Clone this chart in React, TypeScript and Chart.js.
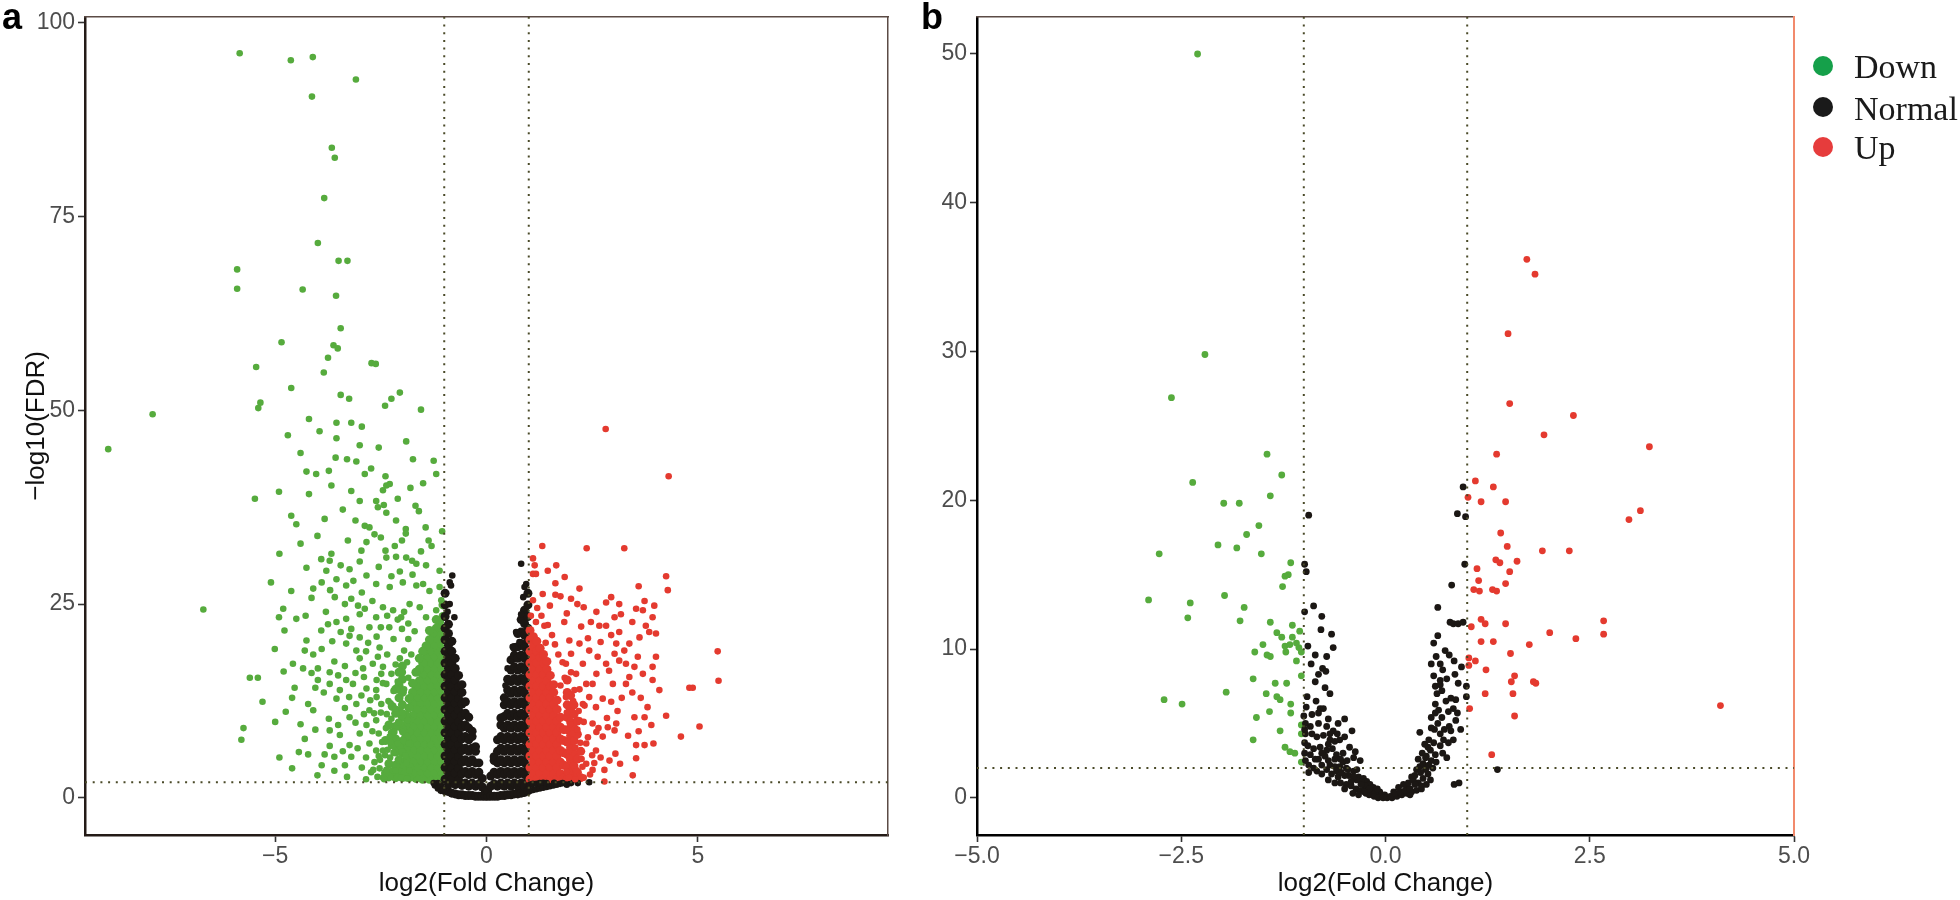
import React, { useEffect, useRef } from 'react';
import { Chart, registerables } from 'chart.js';

Chart.register(...registerables);

type P = [number, number];
type Col = [number, number[]];

// ---------- thresholds ----------
const fcCut = 1;
const fdrCut = 2;

// ---------- axes ----------
const aXTicks = [-5, 0, 5];
const aYTicks = [0, 25, 50, 75, 100];
const aXRange: P = [-9.5, 9.5];
const aYRange: P = [-4.8, 100.8];

const bXTicks = [-5, -2.5, 0, 2.5, 5];
const bYTicks = [0, 10, 20, 30, 40, 50];
const bXRange: P = [-5, 5];
const bYRange: P = [-2.5, 52.5];

const legendLabels = ['Down', 'Normal', 'Up'];

// ---------- panel a : Normal (dense V, listed per log2FC column) ----------
const aNormalCols: Col[] = [
  [-0.98, [0.9, 2.4, 3.9, 5.4, 6.9, 8.4, 9.9, 11.4, 12.9, 14.4, 15.9, 17.4, 18.9, 20.4, 21.9, 23.4, 24.9, 26.4]],
  [-0.90, [0.8, 1.7, 3.2, 4.7, 6.2, 7.7, 9.2, 10.7, 12.2, 13.7, 15.2, 16.7, 18.2, 19.7, 21.2, 22.4]],
  [-0.82, [0.6, 2.4, 3.9, 5.4, 6.9, 8.4, 9.9, 11.4, 12.9, 14.4, 15.9, 17.4, 18.9, 20.2]],
  [-0.74, [0.5, 1.7, 3.2, 4.7, 6.2, 7.7, 9.2, 10.7, 12.2, 13.7, 15.2, 16.7, 18.0]],
  [-0.66, [0.4, 2.3, 3.8, 5.3, 6.8, 8.3, 9.8, 11.3, 12.8, 14.3, 15.8]],
  [-0.58, [0.4, 1.6, 3.1, 4.6, 6.1, 7.6, 9.1, 10.6, 12.1, 13.6, 14.6]],
  [-0.50, [0.3, 1.9, 3.4, 4.9, 6.4, 7.9, 9.4, 10.9, 12.4]],
  [-0.42, [0.3, 1.5, 3.0, 4.5, 6.0, 7.5, 9.0, 10.4]],
  [-0.34, [0.3, 1.9, 3.4, 4.9, 6.4, 7.9, 8.6]],
  [-0.26, [0.2, 1.5, 3.0, 4.5, 6.0, 6.6]],
  [-0.18, [0.2, 1.8, 3.3, 4.5]],
  [-0.10, [0.2, 1.4, 2.5]],
  [-0.03, [0.2, 0.9]],
  [0.03, [0.2, 0.9]],
  [0.10, [0.2, 1.5, 2.8]],
  [0.18, [0.2, 1.8, 3.3, 4.8, 5.3]],
  [0.26, [0.2, 1.5, 3.0, 4.5, 6.0, 7.5]],
  [0.34, [0.3, 1.9, 3.4, 4.9, 6.4, 7.9, 9.4, 10.3]],
  [0.42, [0.3, 1.5, 3.0, 4.5, 6.0, 7.5, 9.0, 10.5, 12.0, 12.9]],
  [0.50, [0.4, 1.9, 3.4, 4.9, 6.4, 7.9, 9.4, 10.9, 12.4, 13.9, 15.3]],
  [0.58, [0.4, 1.5, 3.0, 4.5, 6.0, 7.5, 9.0, 10.5, 12.0, 13.5, 15.0, 16.5, 17.8]],
  [0.66, [0.5, 1.9, 3.4, 4.9, 6.4, 7.9, 9.4, 10.9, 12.4, 13.9, 15.4, 16.9, 18.4, 19.4]],
  [0.74, [0.5, 1.5, 3.0, 4.5, 6.0, 7.5, 9.0, 10.5, 12.0, 13.5, 15.0, 16.5, 18.0, 19.5, 21.2]],
  [0.82, [0.6, 1.9, 3.4, 4.9, 6.4, 7.9, 9.4, 10.9, 12.4, 13.9, 15.4, 16.9, 18.4, 19.9, 21.4, 23.0]],
  [0.90, [0.7, 1.5, 3.0, 4.5, 6.0, 7.5, 9.0, 10.5, 12.0, 13.5, 15.0, 16.5, 18.0, 19.5, 21.0, 22.5, 24.2]],
  [0.98, [0.9, 2.4, 3.9, 5.4, 6.9, 8.4, 9.9, 11.4, 12.9, 14.4, 15.9, 17.4, 18.9, 20.4, 21.9, 23.4, 24.9, 26.4]],
];
const aNormalPts: P[] = [
  [-0.81, 28.7], [-0.87, 27.8], [-0.84, 27.4], [-0.87, 25.0], [-0.76, 23.3], [-0.92, 24.0],
  [0.82, 30.2], [0.94, 27.6], [0.90, 27.2], [0.87, 25.9], [0.82, 23.7], [0.70, 21.4], [0.78, 20.1],
  [0.50, 16.7], [0.45, 14.5], [0.62, 19.5],
  [-1.22, 1.6], [-1.15, 1.2], [-1.15, 1.9], [-1.08, 0.9], [-1.08, 1.6], [-1.03, 1.1], [-1.25, 1.9],
  [1.03, 0.9], [1.03, 1.7], [1.10, 1.0], [1.10, 1.8], [1.18, 1.1], [1.18, 1.8], [1.26, 1.2], [1.26, 1.9],
  [1.34, 1.3], [1.34, 1.95], [1.42, 1.4], [1.42, 1.9], [1.50, 1.5], [1.58, 1.6], [1.60, 1.95], [1.66, 1.7],
  [1.74, 1.8], [1.80, 1.9], [1.90, 1.7], [2.00, 1.9], [2.16, 1.9], [2.43, 2.0],
];

// ---------- panel a : Down ----------
const aDownCols: Col[] = [
  [-1.03, [2.4, 3.9, 5.4, 6.9, 8.4, 9.9, 11.4, 12.9, 14.4, 15.9, 17.4, 18.9, 20.4, 21.9, 23.4, 24.9]],
  [-1.11, [3.1, 4.6, 6.1, 7.6, 9.1, 10.6, 12.1, 13.6, 15.1, 16.6, 18.1, 19.6, 21.1, 22.7]],
  [-1.19, [2.4, 3.9, 5.4, 6.9, 8.4, 9.9, 11.4, 12.9, 14.4, 15.9, 17.4, 18.9, 20.4, 21.9, 23.0]],
  [-1.27, [3.1, 4.6, 6.1, 7.6, 9.1, 10.6, 12.1, 13.6, 15.1, 16.6, 18.1, 19.6, 21.2]],
  [-1.35, [2.4, 3.9, 5.4, 6.9, 8.4, 9.9, 11.4, 12.9, 14.4, 15.9, 17.4, 18.9, 20.4, 21.6]],
  [-1.43, [3.1, 4.6, 6.1, 7.6, 9.1, 10.6, 12.1, 13.6, 15.1, 16.6, 18.1, 19.6]],
  [-1.51, [2.4, 3.9, 5.4, 6.9, 8.4, 9.9, 11.4, 12.9, 14.4, 15.9, 17.4, 18.9]],
  [-1.59, [3.1, 4.6, 6.1, 7.6, 9.1, 10.6, 12.1, 13.6, 15.1, 16.6, 18.0]],
  [-1.67, [2.5, 3.9, 5.4, 6.9, 8.4, 9.9, 11.4, 12.9, 14.4, 16.2]],
  [-1.75, [3.1, 4.6, 6.1, 7.6, 9.1, 10.6, 12.1, 13.6, 14.8]],
  [-1.83, [2.6, 4.0, 5.5, 7.0, 8.5, 10.0, 11.6, 12.8]],
  [-1.91, [3.4, 4.9, 6.4, 7.9, 9.4, 10.7]],
  [-1.99, [2.6, 4.1, 5.8, 7.3, 8.9, 10.4, 12.0, 13.6, 15.3, 17.0]],
  [-2.07, [3.3, 4.9, 6.6, 9.6, 11.2, 12.9, 14.5, 16.2]],
  [-2.15, [2.6, 4.2, 5.9, 7.6, 9.2, 10.9, 14.0]],
  [-2.23, [3.4, 6.8, 8.4, 11.8]],
  [-2.31, [2.7, 4.4, 9.4]],
  [-2.39, [3.2, 7.4]],
];
const aDownPts: P[] = [
  [-5.84, 96.1], [-4.63, 95.2], [-4.11, 95.6], [-3.09, 92.7], [-4.13, 90.5], [-3.66, 83.9], [-3.59, 82.6],
  [-3.84, 77.4], [-3.99, 71.6], [-3.50, 69.3], [-3.29, 69.3], [-5.90, 68.2], [-5.90, 65.7], [-4.35, 65.6],
  [-3.56, 64.8], [-3.45, 60.6], [-3.62, 58.4], [-3.52, 58.0], [-3.75, 56.8], [-2.72, 56.1], [-2.62, 56.0],
  [-4.85, 58.8], [-5.45, 55.6], [-5.35, 51.0], [-5.40, 50.3], [-4.62, 52.9], [-3.85, 54.9], [-3.45, 52.0],
  [-3.25, 51.5], [-2.25, 51.5], [-2.05, 52.3], [-2.40, 50.6], [-3.55, 48.4], [-3.20, 48.4], [-2.95, 47.9],
  [-3.95, 47.3], [-4.20, 48.9], [-3.55, 46.4], [-1.55, 50.1], [-7.9, 49.5], [-8.95, 45.0],
  [-3.57, 43.9], [-3.30, 43.7], [-3.08, 43.4], [-1.74, 43.7], [-1.25, 43.5], [-4.26, 42.1], [-4.03, 41.8],
  [-3.73, 42.2], [-2.88, 41.8], [-2.73, 42.5], [-1.19, 41.8], [-2.39, 41.5], [-2.29, 40.5], [-2.37, 40.3],
  [-3.67, 40.3], [-4.91, 39.5], [-4.20, 39.2], [-5.48, 38.6], [-3.20, 39.6], [-2.45, 39.7], [-2.61, 38.3],
  [-2.57, 37.5], [-2.43, 37.8], [-2.37, 36.8], [-1.68, 37.7], [-1.60, 37.0], [-4.62, 36.4], [-4.50, 35.3],
  [-3.83, 36.0], [-2.14, 35.8], [-2.88, 35.1], [-2.77, 34.9], [-2.65, 34.0], [-1.91, 34.7], [-1.91, 34.1],
  [-1.44, 34.9], [-1.05, 34.4], [-3.28, 33.2], [-2.84, 33.0], [-1.37, 33.2], [-2.96, 31.9], [-2.39, 31.9],
  [-2.17, 32.5], [-3.67, 31.5], [-3.91, 30.8], [-3.71, 30.6], [-4.26, 29.7], [-3.24, 29.5], [-2.37, 31.0],
  [-2.14, 31.1], [-1.90, 31.0], [-1.76, 30.6], [-1.66, 30.2], [-1.43, 30.0], [-1.11, 29.3], [-2.84, 28.7],
  [-3.79, 29.3], [-3.90, 27.8], [-3.55, 28.2], [-3.32, 27.4], [-4.62, 26.7], [-4.14, 25.8], [-3.59, 25.9],
  [-3.20, 25.7], [-3.04, 24.8], [-2.88, 24.4], [-2.61, 27.6], [-2.29, 27.2], [-1.98, 27.8], [-1.66, 27.4],
  [-1.50, 27.6], [-1.35, 26.7], [-1.11, 27.2], [-4.81, 24.4], [-4.91, 23.3], [-4.78, 21.6], [-4.50, 23.1],
  [-4.28, 23.5], [-3.75, 22.4], [-3.55, 22.7], [-3.32, 23.1], [-3.00, 23.7], [-2.61, 23.3], [-2.45, 24.6],
  [-2.21, 24.2], [-2.02, 23.3], [-1.82, 25.0], [-1.58, 24.6], [-1.43, 23.3], [-1.19, 24.2], [-1.07, 25.5],
  [-3.91, 21.6], [-4.26, 20.3], [-3.24, 20.9], [-3.00, 20.7], [-2.77, 22.0], [-5.01, 19.2], [-3.32, 19.9],
  [-3.08, 19.0], [-4.58, 17.3], [-4.34, 16.7], [-4.14, 16.1], [-3.99, 16.7], [-5.41, 15.5], [-5.60, 15.5],
  [-4.54, 14.2], [-3.99, 15.2], [-3.71, 16.2], [-3.51, 15.8], [-3.71, 14.7], [-3.47, 13.9], [-3.32, 15.2],
  [-4.22, 12.1], [-4.10, 11.3], [-4.75, 11.1], [-3.73, 10.2], [-3.51, 9.4], [-3.71, 8.7], [-3.71, 6.7],
  [-4.30, 7.6], [-4.44, 5.9], [-4.22, 5.6], [-3.83, 5.6], [-3.47, 8.1], [-3.24, 10.4], [-3.24, 6.8],
  [-3.20, 5.3], [-3.00, 8.3], [-2.77, 7.0], [-2.73, 3.3], [-2.53, 3.8], [-2.37, 3.6], [-3.08, 12.1],
  [-2.96, 13.2], [-3.16, 14.7], [-2.84, 14.1], [-2.77, 11.3], [-2.84, 9.4], [-2.61, 10.0], [-2.49, 12.1],
  [-2.61, 13.9], [-2.45, 6.1], [-2.29, 7.9], [-2.61, 6.1], [-2.92, 16.7], [-2.69, 17.3], [-2.57, 18.2],
  [-2.53, 19.4], [-2.45, 16.9], [-2.37, 14.7], [-2.49, 16.0], [-6.7, 24.3], [-5.75, 9.0], [-5.8, 7.5],
  [-1.85, 20.5], [-1.95, 19.0], [-2.05, 18.0], [-2.15, 17.2], [-2.25, 16.0], [-1.88, 17.5], [-1.98, 16.2],
  [-2.10, 15.0], [-2.20, 13.8], [-2.32, 12.5], [-1.95, 14.0], [-2.05, 12.8], [-2.15, 11.5], [-2.25, 10.2],
  [-2.38, 9.0], [-1.98, 11.0], [-2.08, 9.8], [-2.18, 8.5], [-2.28, 7.2], [-2.40, 5.5], [-1.99, 8.5],
  [-2.10, 7.0], [-2.20, 5.8], [-2.30, 4.5], [-2.00, 6.0], [-2.08, 4.8], [-2.15, 3.5], [-1.95, 3.2],
  [-2.02, 2.6], [-1.90, 4.5], [-2.45, 14.8], [-2.50, 11.0], [-2.55, 8.3], [-2.60, 13.0], [-2.35, 18.5],
  [-2.20, 20.5], [-2.00, 21.8], [-1.85, 22.5], [-1.70, 21.5], [-1.95, 24.0], [-2.10, 23.0], [-2.30, 22.0],
  [-1.78, 18.5], [-1.85, 15.5], [-1.80, 13.0], [-1.86, 10.0], [-1.84, 7.0], [-1.92, 5.5], [-1.82, 3.5],
  [-1.88, 2.5],
  [-2.65, 4.6], [-2.85, 5.2], [-3.05, 6.4], [-2.95, 3.9], [-3.35, 4.2], [-3.6, 3.5], [-3.9, 4.2], [-2.55, 5.4],
  [-2.7, 8.6], [-2.9, 10.8], [-3.1, 9.7], [-3.35, 11.6], [-3.55, 12.8], [-3.85, 13.6], [-4.05, 14.2],
  [-3.6, 17.6], [-3.35, 17.0], [-3.1, 16.1], [-2.85, 18.9], [-3.0, 18.0], [-3.2, 21.8], [-3.45, 21.4],
  [-3.65, 20.2], [-3.9, 19.2], [-4.1, 18.5], [-2.6, 20.8], [-2.8, 20.0], [-2.5, 22.0], [-2.35, 23.5],
  [-2.7, 25.4], [-2.95, 26.5], [-3.15, 28.0], [-3.45, 30.0], [-3.0, 30.5], [-2.55, 29.8], [-2.05, 29.2],
  [-2.25, 28.6], [-1.75, 28.8], [-1.55, 31.8], [-1.3, 32.5], [-2.0, 33.2], [-2.5, 33.6], [-3.1, 35.8],
  [-3.4, 37.2], [-3.0, 38.3], [-2.1, 38.6], [-1.8, 40.0], [-1.5, 40.6], [-2.55, 45.2], [-1.9, 46.0],
  [-3.0, 45.5], [-4.4, 44.5], [-4.7, 46.8], [-4.9, 31.5], [-4.4, 32.8], [-4.0, 33.8], [-5.1, 27.8],
  [-5.3, 12.4], [-5.0, 9.8], [-4.9, 5.2], [-4.6, 3.8], [-4.0, 2.9], [-3.3, 2.7], [-2.85, 2.4], [-2.45, 2.6],
  [-2.6, 15.2], [-2.75, 12.6], [-2.9, 15.6], [-3.25, 13.0], [-3.4, 6.0], [-3.6, 5.3], [-4.05, 8.8],
  [-4.4, 9.5], [-4.6, 12.9], [-4.8, 16.3], [-4.3, 19.0], [-3.8, 24.0], [-4.1, 27.0], [-3.7, 26.8],
  [-3.35, 25.0], [-2.42, 2.4], [-2.52, 4.9], [-2.34, 6.2], [-2.47, 7.2], [-2.36, 10.8], [-2.27, 12.2],
  [-2.66, 10.9], [-2.28, 5.2], [-2.58, 2.7], [-2.68, 3.6],
];

// ---------- panel a : Up ----------
const aUpCols: Col[] = [
  [1.03, [2.4, 3.9, 5.4, 6.9, 8.4, 9.9, 11.4, 12.9, 14.4, 15.9, 17.4, 18.9, 20.4, 21.6]],
  [1.11, [3.1, 4.6, 6.1, 7.6, 9.1, 10.6, 12.1, 13.6, 15.1, 16.6, 18.1, 19.6, 20.8]],
  [1.19, [2.4, 3.9, 5.4, 6.9, 8.4, 9.9, 11.4, 12.9, 14.4, 15.9, 17.4, 18.9, 20.2]],
  [1.27, [3.1, 4.6, 6.1, 7.6, 9.1, 10.6, 12.1, 13.6, 15.1, 16.6, 18.1, 19.3]],
  [1.35, [2.4, 3.9, 5.4, 6.9, 8.4, 9.9, 11.4, 12.9, 14.4, 15.9, 17.4, 18.5]],
  [1.43, [3.1, 4.6, 6.1, 7.6, 9.1, 10.6, 12.1, 13.6, 15.1, 16.6, 17.6]],
  [1.51, [2.4, 3.9, 5.4, 6.9, 8.4, 9.9, 11.4, 12.9, 14.4, 15.8]],
  [1.59, [3.1, 4.6, 6.1, 7.6, 9.1, 10.6, 12.1, 13.6, 14.6]],
  [1.67, [2.4, 3.9, 5.4, 6.9, 8.4, 9.9, 11.4, 12.6]],
  [1.75, [3.1, 4.6, 6.1, 7.6, 9.1, 10.4]],
  [1.83, [2.6, 4.2, 5.8, 7.4, 8.8]],
  [1.91, [2.4, 4.0, 5.6, 7.2, 8.8, 10.4, 12.0, 13.6, 15.2]],
  [1.99, [3.2, 4.8, 6.5, 8.0, 9.8, 11.5, 13.2]],
  [2.07, [2.5, 4.1, 5.7, 7.4, 9.0, 10.8, 12.0]],
  [2.15, [3.3, 5.0, 8.2, 9.9]],
  [2.23, [2.6, 6.0]],
];
const aUpPts: P[] = [
  [2.82, 47.6], [4.31, 41.5], [1.32, 32.5], [2.37, 32.2], [3.26, 32.2], [1.10, 30.9], [1.14, 30.0],
  [1.10, 28.9], [1.17, 28.9], [4.25, 28.6], [4.29, 26.8], [1.63, 27.7], [2.20, 27.0], [3.60, 27.3],
  [1.33, 26.3], [1.63, 26.2], [2.00, 25.7], [2.95, 25.9], [3.14, 25.0], [2.83, 25.2], [3.74, 25.4],
  [3.97, 24.8], [3.54, 24.4], [3.70, 24.2], [3.18, 23.7], [3.03, 23.3], [3.93, 23.3], [1.17, 22.7],
  [1.37, 22.2], [1.84, 22.7], [2.24, 22.1], [2.47, 22.7], [2.67, 22.2], [2.83, 22.2], [3.14, 21.4],
  [3.77, 22.2], [3.85, 21.4], [4.01, 21.2], [5.47, 18.9], [5.49, 15.1], [4.80, 14.2], [4.88, 14.2],
  [5.04, 9.2], [4.60, 7.9], [4.25, 10.6], [3.54, 6.8], [3.74, 6.8], [3.46, 2.9], [3.54, 5.1], [3.16, 4.4],
  [3.05, 5.7], [2.79, 3.6], [2.79, 2.1], [3.81, 11.7], [3.74, 10.4], [3.50, 10.4], [2.75, 7.9], [2.87, 9.1],
  [3.07, 9.6], [3.03, 8.7], [2.59, 11.7], [2.75, 12.8], [2.51, 14.7], [2.99, 14.7], [3.30, 14.7],
  [3.38, 15.6], [3.70, 16.0], [3.93, 16.9], [4.01, 18.2], [3.58, 18.2], [3.30, 17.3], [3.14, 17.7],
  [3.03, 18.6], [2.83, 17.3], [2.63, 18.2], [2.43, 19.0], [2.20, 19.9], [1.96, 20.3], [3.07, 19.9],
  [3.38, 19.9], [3.62, 20.7], [3.26, 19.0], [2.28, 17.3], [2.12, 16.0], [2.36, 14.7], [2.28, 12.1],
  [2.43, 13.0], [2.20, 10.0], [2.51, 9.6], [2.36, 7.0], [2.59, 6.1], [2.91, 4.8], [2.36, 4.4], [2.12, 3.6],
  [2.51, 3.6], [1.96, 6.1], [2.04, 8.3], [1.96, 11.3], [2.08, 13.9], [1.88, 17.3], [2.00, 18.6],
  [4.09, 13.9], [3.93, 15.2],
  [1.90, 3.4], [1.95, 5.2], [1.92, 7.2], [1.98, 9.5], [1.90, 11.0], [1.88, 13.0], [2.05, 4.2], [2.10, 6.5],
  [2.15, 8.8], [2.18, 11.2], [2.05, 12.5], [2.25, 5.0], [2.30, 2.6], [2.40, 7.8], [2.20, 14.0], [1.85, 15.5],
  [1.80, 17.5], [1.70, 18.5], [1.62, 19.8], [1.55, 21.0], [1.45, 22.3], [1.30, 23.5], [1.20, 24.5],
  [1.10, 25.5], [1.05, 23.5], [1.40, 20.0], [1.75, 14.5], [2.00, 16.2], [1.95, 2.6], [2.10, 2.4],
  [2.45, 3.0], [2.50, 5.5], [2.30, 9.8], [2.60, 8.5],
  [2.55, 4.5], [2.7, 5.2], [2.65, 9.0], [2.85, 10.3], [2.95, 12.4], [3.2, 12.9], [3.1, 11.2], [3.35, 8.0],
  [3.6, 8.6], [3.9, 9.4], [3.95, 7.0], [3.45, 13.6], [3.65, 12.9], [2.6, 16.0], [2.9, 16.4], [3.5, 16.9],
  [2.4, 20.6], [2.7, 20.1], [2.95, 21.0], [2.3, 24.6], [2.6, 24.0], [3.45, 22.7], [1.5, 24.8], [1.75, 26.0],
  [1.9, 23.8], [2.15, 25.0], [1.65, 30.0], [1.85, 28.5], [1.45, 29.3], [2.22, 7.1], [2.27, 4.0],
  [2.32, 11.9],
];

// ---------- panel b ----------
const bDown: P[] = [
  [-2.30, 50.0], [-2.21, 29.8], [-2.62, 26.9], [-1.45, 23.1], [-1.27, 21.7], [-2.36, 21.2], [-1.41, 20.3],
  [-1.98, 19.8], [-1.79, 19.8], [-1.55, 18.3], [-1.70, 17.7], [-2.05, 17.0], [-1.82, 16.8], [-1.52, 16.4],
  [-2.77, 16.4], [-1.16, 15.8], [-1.19, 15.0], [-1.23, 14.9], [-1.26, 14.2], [-2.90, 13.3], [-2.39, 13.1],
  [-1.97, 13.6], [-2.42, 12.1], [-1.73, 12.8], [-1.78, 11.9], [-1.41, 11.8], [-1.14, 11.6], [-1.05, 11.2],
  [-1.33, 11.1], [-1.27, 10.8], [-1.14, 10.8], [-1.23, 10.2], [-1.17, 10.3], [-1.09, 10.4], [-1.06, 10.1],
  [-1.03, 9.8], [-1.50, 10.3], [-1.60, 9.8], [-1.45, 9.6], [-1.41, 9.5], [-1.22, 9.8], [-1.09, 9.2],
  [-1.62, 8.0], [-1.35, 7.7], [-1.21, 7.7], [-1.03, 8.2], [-1.46, 7.0], [-1.33, 6.8], [-1.29, 6.6],
  [-1.16, 6.3], [-2.71, 6.6], [-2.49, 6.3], [-1.95, 7.1], [-1.42, 5.8], [-1.16, 5.7], [-1.58, 5.4],
  [-1.03, 4.9], [-1.03, 4.3], [-1.29, 4.5], [-1.62, 3.9], [-1.23, 3.4], [-1.17, 3.1], [-1.11, 3.0],
  [-1.03, 2.4],
];
const bNormal: P[] = [
  [-0.94, 19.0], [-0.99, 15.7], [-0.97, 15.2], [-0.88, 12.9], [-0.99, 12.5], [-0.78, 12.2], [-0.79, 11.3],
  [-0.64, 10.1], [-0.86, 9.6], [-0.77, 8.7], [-0.73, 8.5], [-0.86, 7.8], [-0.68, 7.0], [-0.97, 6.1],
  [-0.80, 6.0], [-0.76, 6.0], [-0.82, 5.7], [-0.50, 5.3], [-0.98, 5.0], [-0.92, 4.8], [-0.82, 5.0],
  [-0.72, 4.8], [-0.64, 4.5], [-0.68, 4.3], [-0.59, 4.3], [-0.41, 4.5], [-0.84, 4.1], [-0.98, 4.3],
  [-0.56, 3.9], [-0.50, 4.1], [-0.68, 3.9], [-0.99, 3.7], [-0.88, 3.3], [-0.80, 3.4], [-0.72, 3.2],
  [-0.92, 2.9], [-0.74, 2.8], [-0.65, 3.3], [-0.52, 3.0], [-0.37, 3.1], [-0.39, 2.7], [-0.31, 2.5],
  [-0.94, 2.2], [-0.68, 2.2], [-0.62, 2.1], [-0.56, 2.1], [-0.48, 2.0], [-0.84, 1.8], [-0.60, 1.8],
  [-0.39, 1.8], [-0.45, 1.5], [-0.35, 1.9], [-0.33, 1.4], [-0.27, 1.3], [-0.23, 1.1], [-0.19, 0.9],
  [-0.15, 0.7], [-0.11, 0.5], [-0.07, 0.4], [-0.01, 0.2], [-0.35, 1.2], [-0.39, 1.4], [-0.50, 1.5],
  [-0.58, 1.4], [-0.29, 1.0], [-0.25, 0.8], [-0.17, 0.5], [-0.13, 0.3], [-0.05, 0.1],
  [-1.0, 5.5], [-0.99, 4.6], [-0.99, 3.0], [-0.98, 2.5], [-0.96, 6.8],
  [-0.55, 1.0], [-0.48, 0.9], [-0.42, 0.8], [-0.36, 0.6], [-0.30, 0.5], [-0.24, 0.3], [-0.20, 0.2],
  [-0.14, 0.1], [-0.09, 0.0], [-0.03, 0.0], [0.02, 0.0], [0.08, 0.0], [0.14, 0.1], [0.20, 0.2],
  [0.26, 0.3], [0.32, 0.4], [0.38, 0.5], [0.44, 0.6], [0.50, 0.9], [0.55, 1.2], [0.40, 1.0], [0.46, 1.3],
  [0.52, 1.6], [0.58, 2.0], [0.30, 0.2], [0.10, 0.4], [-0.10, 0.6], [-0.20, 0.6], [-0.26, 0.4],
  [-0.30, 0.9], [-0.42, 1.1], [-0.46, 1.9], [-0.52, 2.4], [-0.62, 2.6], [-0.70, 2.5], [-0.78, 2.2],
  [-0.82, 2.6], [-0.88, 2.0], [-0.72, 1.9], [-0.66, 1.6], [-0.54, 1.7], [0.16, 0.7], [0.26, 0.8],
  [0.32, 1.4], [0.40, 2.6], [0.45, 3.0], [0.52, 3.4], [0.48, 3.6], [0.60, 4.6], [0.64, 5.0], [0.72, 4.6],
  [0.78, 4.8], [0.74, 6.5], [0.70, 8.6], [0.62, 9.5], [0.84, 9.2],
  [0.06, 0.1], [0.12, 0.3], [0.18, 0.4], [0.24, 0.5], [0.30, 0.6], [0.22, 0.9], [0.28, 1.0], [0.34, 1.2],
  [0.36, 1.5], [0.38, 1.9], [0.42, 2.1], [0.46, 2.3], [0.49, 2.7], [0.44, 0.8], [0.49, 1.9], [0.53, 2.2],
  [0.50, 2.8], [0.55, 3.2], [0.42, 4.4], [0.56, 2.5], [0.61, 2.9], [0.59, 3.7], [0.53, 3.9], [0.67, 3.5],
  [0.71, 3.9], [0.77, 3.7], [0.83, 3.9], [0.67, 4.3], [0.56, 4.7], [0.56, 5.4], [0.61, 5.7], [0.65, 5.9],
  [0.69, 5.4], [0.77, 5.8], [0.83, 6.0], [0.88, 5.7], [0.86, 5.2], [0.61, 6.3], [0.63, 7.0], [0.61, 7.5],
  [0.67, 7.6], [0.69, 7.2], [0.67, 7.9], [0.75, 8.0], [0.80, 6.7], [0.85, 8.3], [0.89, 7.7], [0.59, 8.2],
  [0.56, 9.0], [0.67, 9.0], [0.73, 9.9], [0.59, 10.4], [0.99, 7.5], [0.99, 6.8], [0.84, 0.9], [0.90, 1.0],
  [0.64, 12.8], [0.79, 11.8], [0.83, 11.7], [0.89, 11.7], [0.95, 11.8], [0.81, 14.3], [0.97, 15.7],
  [0.88, 19.1], [0.98, 18.9], [0.95, 20.9], [1.37, 1.9],
  [-0.95, 3.5], [-0.90, 4.3], [-0.86, 2.6], [-0.78, 3.0], [-0.76, 4.2], [-0.70, 3.6], [-0.62, 3.8],
  [-0.60, 2.9], [-0.55, 2.6], [-0.47, 2.5], [-0.44, 3.4], [-0.90, 5.6], [-0.85, 6.5], [-0.70, 5.3],
  [-0.58, 5.0], [-0.74, 7.4], [-0.82, 8.3], [-0.91, 9.0], [-0.95, 10.2], [-0.72, 9.5], [-0.66, 11.0],
  [-0.94, 1.7], [-0.78, 1.6], [-0.70, 1.2], [-0.62, 1.0], [-0.50, 0.6], [-0.40, 0.3], [-0.33, 0.2],
  [0.36, 0.9], [0.43, 1.7], [0.50, 2.0], [0.62, 2.4], [0.70, 3.0], [0.75, 2.7], [0.80, 4.5], [0.92, 4.6],
  [0.86, 6.6], [0.93, 8.8], [0.78, 9.6], [0.64, 10.9],
];
const bUp: P[] = [
  [1.73, 36.2], [1.83, 35.2], [1.50, 31.2], [1.52, 26.5], [2.30, 25.7], [1.94, 24.4], [3.23, 23.6],
  [1.36, 23.1], [1.10, 21.3], [1.32, 20.9], [1.01, 20.2], [1.17, 19.9], [1.47, 19.9], [2.98, 18.7],
  [3.12, 19.3], [1.41, 17.8], [1.49, 16.9], [1.92, 16.6], [2.25, 16.6], [1.35, 16.0], [1.40, 15.8],
  [1.61, 15.9], [1.52, 15.2], [1.12, 15.4], [1.14, 14.6], [1.47, 14.4], [1.08, 14.0], [1.15, 13.9],
  [1.31, 14.0], [1.36, 13.9], [2.67, 11.9], [1.17, 12.0], [1.22, 11.7], [1.47, 11.7], [1.05, 11.5],
  [2.01, 11.1], [2.67, 11.0], [2.33, 10.7], [1.17, 10.5], [1.32, 10.5], [1.76, 10.3], [1.53, 9.7],
  [1.02, 9.4], [1.10, 9.2], [1.02, 8.9], [1.23, 8.6], [1.58, 8.2], [1.54, 7.8], [1.81, 7.8], [1.84, 7.7],
  [1.22, 7.0], [1.56, 7.0], [1.03, 6.0], [1.58, 5.5], [1.30, 2.9], [4.10, 6.2],
];

// ---------- styling ----------
const DOWN = '#56ab3d';
const NORMAL = '#1b1714';
const UP = '#e43a2f';
const LEGEND_COLORS = ['#15a04a', '#1a1a1a', '#e63c3c'];
const SANS = "'Liberation Sans', Arial, Helvetica, sans-serif";

type XY = { x: number; y: number };

function fromCols(cols: Col[]): XY[] {
  const out: XY[] = [];
  for (const [x, ys] of cols) for (const y of ys) out.push({ x, y });
  return out;
}
function fromPts(pts: P[]): XY[] {
  return pts.map(([x, y]) => ({ x, y }));
}

function fmt(v: number, dec: number) {
  const s = Math.abs(v).toFixed(dec);
  return v < 0 ? '\u2212' + s : s;
}

type PanelSpec = {
  down: XY[]; normal: XY[]; up: XY[];
  denseDown: XY[]; denseNormal: XY[]; denseUp: XY[];
  xRange: P; yRange: P; xTicks: number[]; yTicks: number[]; xDec: number;
  yAxisWidth: number; padRight: number; yTitle: string | null;
  mainAxisColor: string; topColor: string; rightColor: string; rightWidth: number;
  radius: number; denseRadius: number;
};

function makeConfig(p: PanelSpec): any {
  const dotted = (data: XY[]) => ({
    type: 'line', data, borderColor: '#4a4a28', borderWidth: 2, borderDash: [2, 5.7],
    pointRadius: 0, pointHoverRadius: 0, fill: false, tension: 0, order: 0, showLine: true,
  });
  const pts = (data: XY[], color: string, order: number, r: number) => ({
    type: 'scatter', data, backgroundColor: color, borderWidth: 0, pointRadius: r,
    pointHoverRadius: r, order,
  });
  const tickFont = { family: SANS, size: 23 };
  const titleFont = { family: SANS, size: 26 };
  return {
    type: 'scatter',
    data: {
      datasets: [
        dotted([{ x: -fcCut, y: p.yRange[0] }, { x: -fcCut, y: p.yRange[1] }]),
        dotted([{ x: fcCut, y: p.yRange[0] }, { x: fcCut, y: p.yRange[1] }]),
        dotted([{ x: p.xRange[0], y: fdrCut }, { x: p.xRange[1], y: fdrCut }]),
        pts(p.up, UP, 1, p.radius),
        pts(p.normal, NORMAL, 2, p.radius),
        pts(p.down, DOWN, 3, p.radius),
        pts(p.denseUp, UP, 4, p.denseRadius),
        pts(p.denseNormal, NORMAL, 5, p.denseRadius),
        pts(p.denseDown, DOWN, 6, p.denseRadius),
      ],
    },
    options: {
      animation: false,
      responsive: false,
      devicePixelRatio: 1,
      events: [],
      layout: { autoPadding: false, padding: { left: 0, right: p.padRight, top: 14, bottom: 0 } },
      plugins: { legend: { display: false }, tooltip: { enabled: false }, title: { display: false } },
      scales: {
        x: {
          type: 'linear', position: 'bottom', min: p.xRange[0], max: p.xRange[1],
          afterBuildTicks: (s: any) => { s.ticks = p.xTicks.map((v) => ({ value: v })); },
          afterFit: (s: any) => { s.height = 65; },
          ticks: {
            font: tickFont, color: '#4d4d4d', padding: 1, maxRotation: 0, autoSkip: false,
            callback: (v: any) => fmt(Number(v), p.xDec),
          },
          grid: { display: true, drawOnChartArea: false, drawTicks: true, tickLength: 7, tickWidth: 1.6, tickColor: '#333333', color: '#333333' },
          border: { display: true, color: p.mainAxisColor, width: 2.5 },
          title: { display: true, text: 'log2(Fold Change)', font: titleFont, color: '#111111', padding: { top: 0, bottom: 1 } },
        },
        y: {
          type: 'linear', position: 'left', min: p.yRange[0], max: p.yRange[1],
          afterBuildTicks: (s: any) => { s.ticks = p.yTicks.map((v) => ({ value: v })); },
          afterFit: (s: any) => { s.width = p.yAxisWidth; },
          ticks: { font: tickFont, color: '#4d4d4d', padding: 3, autoSkip: false, callback: (v: any) => fmt(Number(v), 0) },
          grid: { display: true, drawOnChartArea: false, drawTicks: true, tickLength: 7, tickWidth: 1.6, tickColor: '#333333', color: '#333333' },
          border: { display: true, color: p.mainAxisColor, width: 2.5 },
          title: p.yTitle
            ? { display: true, text: p.yTitle, font: titleFont, color: '#111111', padding: { top: 21, bottom: 0 } }
            : { display: false },
        },
        xTop: {
          type: 'linear', position: 'top', min: p.xRange[0], max: p.xRange[1],
          afterFit: (s: any) => { s.height = 0; },
          ticks: { display: false }, grid: { display: false, drawTicks: false },
          border: { display: true, color: p.topColor, width: 1.5 },
        },
        yRight: {
          type: 'linear', position: 'right', min: p.yRange[0], max: p.yRange[1],
          afterFit: (s: any) => { s.width = 0; },
          ticks: { display: false }, grid: { display: false, drawTicks: false },
          border: { display: true, color: p.rightColor, width: p.rightWidth },
        },
      },
    },
  };
}

function Panel({ left, width, spec }: { left: number; width: number; spec: () => PanelSpec }) {
  const ref = useRef<HTMLCanvasElement>(null);
  useEffect(() => {
    const chart = new Chart(ref.current as HTMLCanvasElement, makeConfig(spec()));
    return () => chart.destroy();
  }, []);
  return (
    <canvas
      ref={ref}
      width={width}
      height={900}
      style={{ position: 'absolute', left, top: 0, width, height: 900 }}
    />
  );
}

const specA = (): PanelSpec => ({
  down: fromPts(aDownPts), normal: fromPts(aNormalPts), up: fromPts(aUpPts),
  denseDown: fromCols(aDownCols), denseNormal: fromCols(aNormalCols), denseUp: fromCols(aUpCols),
  xRange: aXRange, yRange: aYRange, xTicks: aXTicks, yTicks: aYTicks, xDec: 0,
  yAxisWidth: 85, padRight: 42, yTitle: '\u2212log10(FDR)',
  mainAxisColor: '#241b17', topColor: '#5b4b45', rightColor: '#5b4b45', rightWidth: 1.5,
  radius: 3.3, denseRadius: 4.5,
});

const specB = (): PanelSpec => ({
  down: fromPts(bDown), normal: fromPts(bNormal), up: fromPts(bUp),
  denseDown: [], denseNormal: [], denseUp: [],
  xRange: bXRange, yRange: bYRange, xTicks: bXTicks, yTicks: bYTicks, xDec: 1,
  yAxisWidth: 47, padRight: 166, yTitle: null,
  mainAxisColor: '#000000', topColor: '#5b4b45', rightColor: '#f28a6c', rightWidth: 2,
  radius: 3.4, denseRadius: 3.4,
});

export default function App() {
  const legendBaselines = [78, 120, 159];
  const legendCircles = [66, 107, 147];
  return (
    <div style={{ position: 'absolute', left: 0, top: 0, width: 1960, height: 900, background: '#ffffff', overflow: 'hidden' }}>
      <Panel left={0} width={930} spec={specA} />
      <Panel left={930} width={1030} spec={specB} />
      <div style={{ position: 'absolute', left: 2, top: -2, font: `bold 36px ${SANS}`, lineHeight: '38px', color: '#000' }}>a</div>
      <div style={{ position: 'absolute', left: 921, top: -2, font: `bold 36px ${SANS}`, lineHeight: '38px', color: '#000' }}>b</div>
      {legendLabels.map((lab, i) => (
        <React.Fragment key={lab}>
          <div
            style={{
              position: 'absolute', left: 1813, top: legendCircles[i] - 10, width: 20, height: 20,
              borderRadius: '50%', background: LEGEND_COLORS[i],
            }}
          />
          <div
            style={{
              position: 'absolute', left: 1854, top: legendBaselines[i] - 28.5, font: "34px 'Liberation Serif', 'Times New Roman', serif",
              lineHeight: '34px', color: '#1a1a1a', whiteSpace: 'nowrap',
            }}
          >
            {lab}
          </div>
        </React.Fragment>
      ))}
    </div>
  );
}
